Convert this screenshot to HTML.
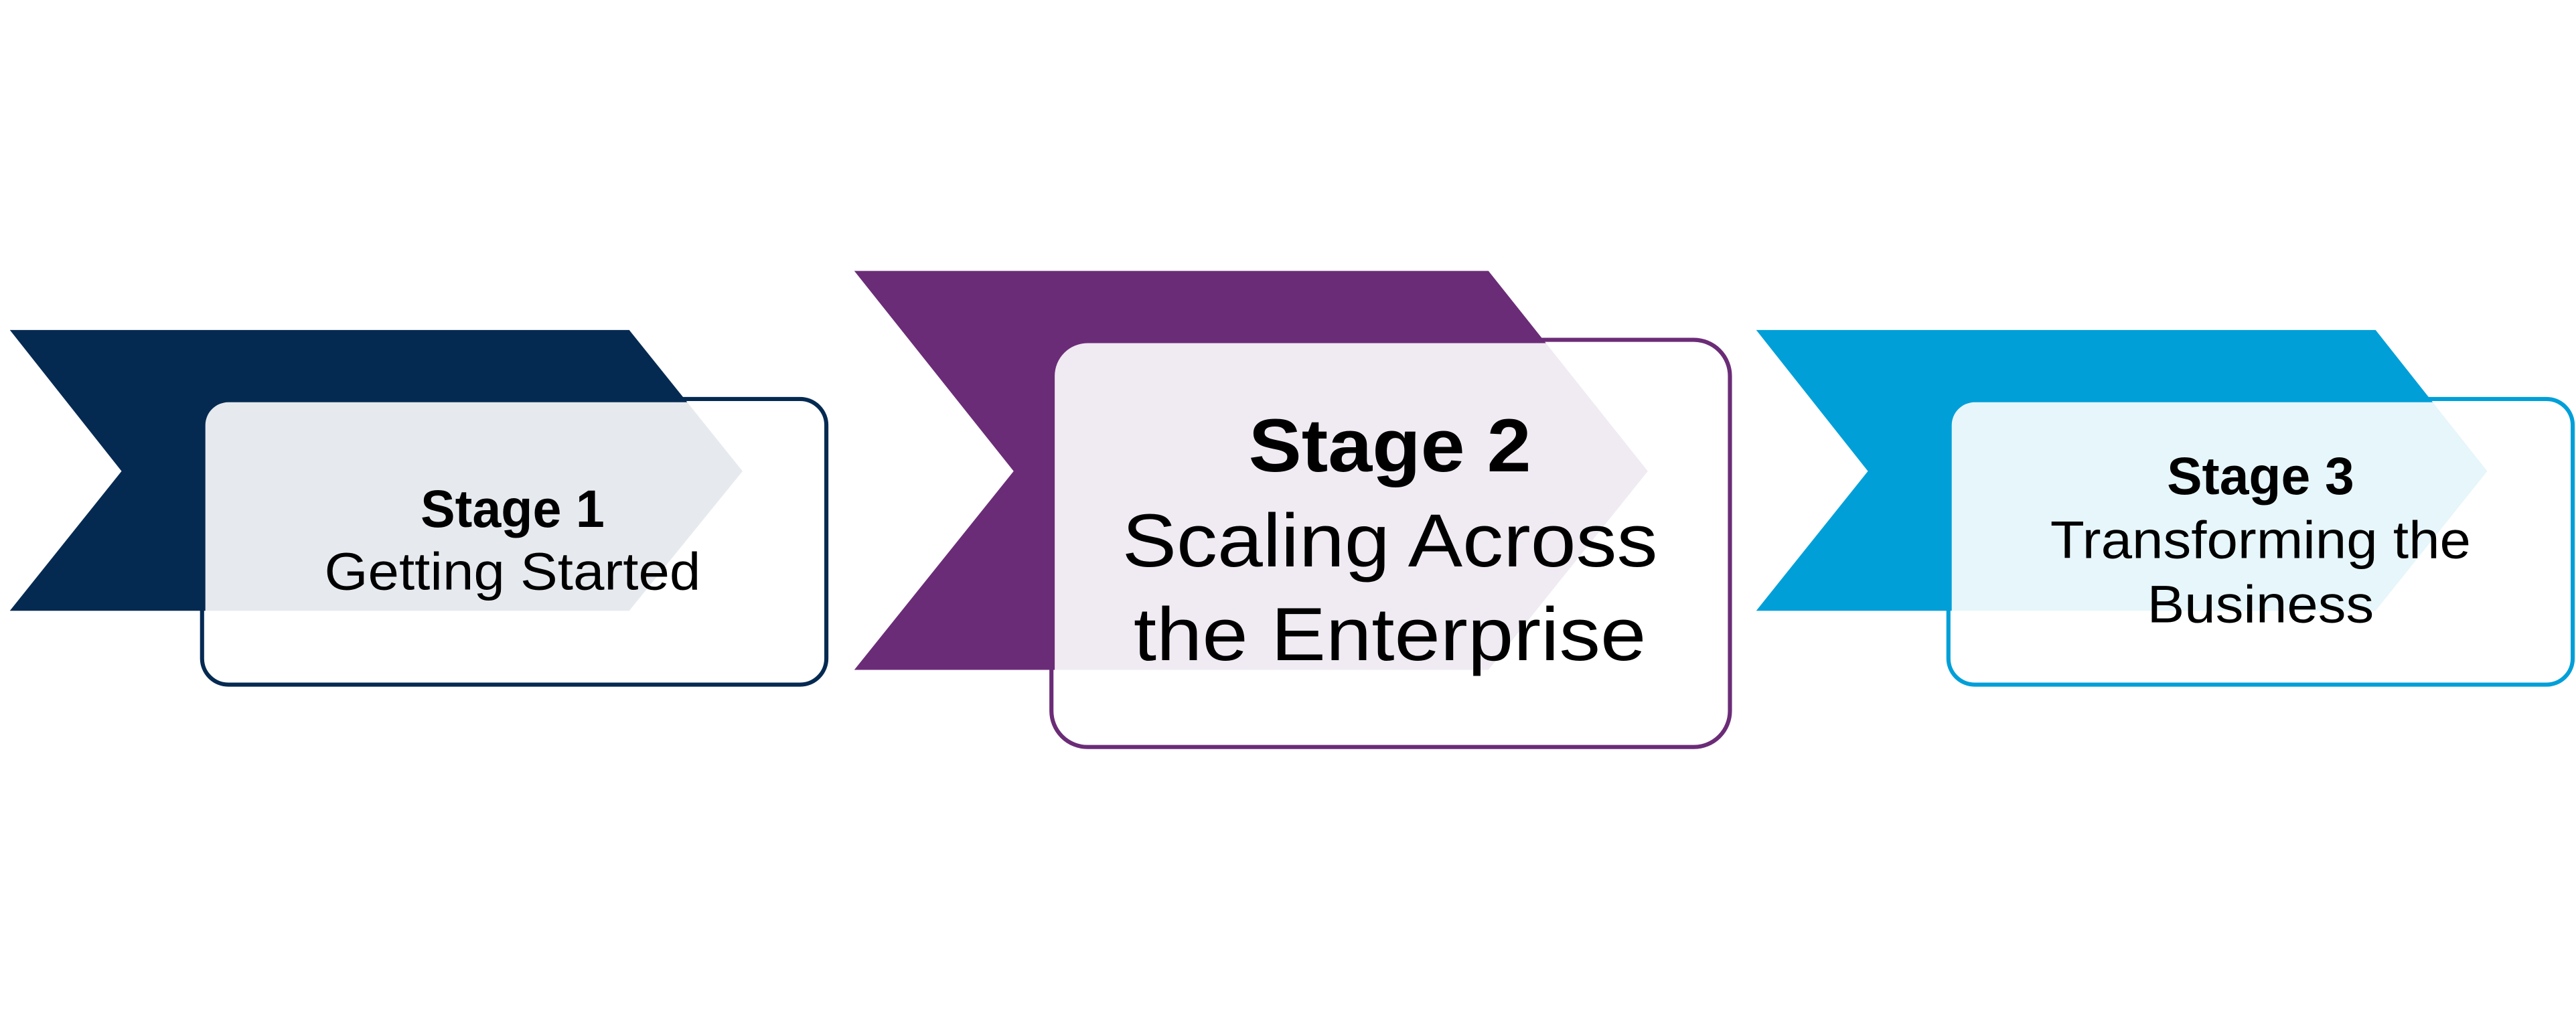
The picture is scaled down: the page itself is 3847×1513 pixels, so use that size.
<!DOCTYPE html>
<html><head><meta charset="utf-8"><style>
html,body{margin:0;padding:0;background:#fff;}
svg{display:block;}
text{font-family:"Liberation Sans Narrow","Liberation Sans",sans-serif;fill:#000;text-anchor:middle;}
</style></head><body>
<svg width="3847" height="1513" viewBox="0 0 1568 617" preserveAspectRatio="none" xmlns="http://www.w3.org/2000/svg">
<rect width="1568" height="617" fill="#fff"/>
<!-- Stage 1 -->
<rect x="123" y="243" width="380" height="174" rx="16" fill="#fff" stroke="#052a52" stroke-width="2.5"/>
<polygon points="6,201 383,201 452,287 383,372 6,372 74,287" fill="#052a52"/>
<rect x="125" y="245" width="376" height="170" rx="14" fill="#fff" fill-opacity="0.9"/>
<text x="312" y="321" font-size="32" font-weight="bold" textLength="112" lengthAdjust="spacingAndGlyphs">Stage 1</text>
<text x="312" y="359" font-size="32" textLength="229" lengthAdjust="spacingAndGlyphs">Getting Started</text>
<!-- Stage 2 -->
<rect x="640" y="207" width="413" height="248" rx="22" fill="#fff" stroke="#6b2c77" stroke-width="2.5"/>
<polygon points="520,165 906,165 1003,287 906,408 520,408 617,287" fill="#6b2c77"/>
<rect x="642" y="209" width="409" height="244" rx="20" fill="#fff" fill-opacity="0.9"/>
<text x="846" y="287" font-size="46" font-weight="bold" textLength="172" lengthAdjust="spacingAndGlyphs">Stage 2</text>
<text x="846" y="345" font-size="46" textLength="326" lengthAdjust="spacingAndGlyphs">Scaling Across</text>
<text x="846" y="402" font-size="46" textLength="312" lengthAdjust="spacingAndGlyphs">the Enterprise</text>
<!-- Stage 3 -->
<rect x="1186" y="243" width="380" height="174" rx="16" fill="#fff" stroke="#009fd8" stroke-width="2.5"/>
<polygon points="1069,201 1446,201 1514,287 1446,372 1069,372 1137,287" fill="#009fd8"/>
<rect x="1188" y="245" width="376" height="170" rx="14" fill="#fff" fill-opacity="0.9"/>
<text x="1376" y="301" font-size="32" font-weight="bold" textLength="114" lengthAdjust="spacingAndGlyphs">Stage 3</text>
<text x="1376" y="340" font-size="32" textLength="256" lengthAdjust="spacingAndGlyphs">Transforming the</text>
<text x="1376" y="379" font-size="32" textLength="138" lengthAdjust="spacingAndGlyphs">Business</text>
</svg>
</body></html>
